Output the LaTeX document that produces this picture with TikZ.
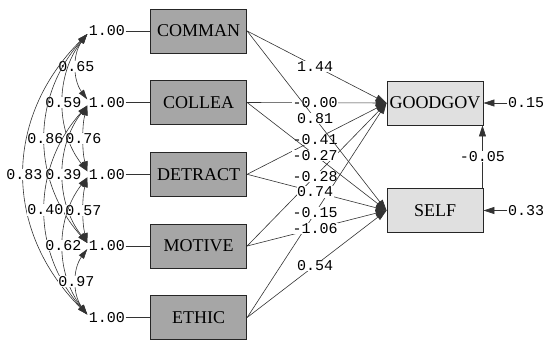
\documentclass[tikz,border=0pt]{standalone}
\usepackage{fontspec}
\setmainfont{Liberation Serif}
\setmonofont{Liberation Mono}
\usetikzlibrary{arrows.meta,calc}
\begin{document}
\begin{tikzpicture}[x=1pt,y=-1pt,
  obs/.style={draw=black!85, line width=0.9pt, minimum width=96pt, minimum height=44pt, inner sep=0pt, font=\fontsize{18}{18}\selectfont},
  exo/.style={obs, fill=black!35},
  endo/.style={obs, fill=black!12},
  num/.style={font=\ttfamily\fontsize{15}{15}\selectfont, inner sep=0.5pt},
  lbl/.style={num, fill=white},
  conn/.style={draw=black!80, line width=0.6pt},
  tip/.style={-{Triangle[length=11pt,width=7pt]}},
  dtip/.style={{Triangle[length=10pt,width=6pt]}-{Triangle[length=10pt,width=6pt]}},
]
\useasboundingbox (0,0) rectangle (548,342);
% observed variables
\node[exo] (comman) at (198.7,31) {COMMAN};
\node[exo] (collea) at (198.7,102.5) {COLLEA};
\node[exo] (detract) at (198.7,174.3) {DETRACT};
\node[exo] (motive) at (198.7,246) {MOTIVE};
\node[exo] (ethic) at (198.7,317.5) {ETHIC};
\node[endo] (good) at (435,103) {GOODGOV};
\node[endo] (self) at (435,210.5) {SELF};
% variances
\node[num] (v1) at (107,31) {1.00};
\node[num] (v2) at (107,102.5) {1.00};
\node[num] (v3) at (107,174.3) {1.00};
\node[num] (v4) at (107,246) {1.00};
\node[num] (v5) at (107,317.5) {1.00};
\foreach \v/\b in {v1/comman,v2/collea,v3/detract,v4/motive,v5/ethic}{
  \draw[conn] (\v) -- (\b);
}
\foreach \i in {1,...,5}{
  \coordinate (a\i) at ($(v\i.west)+(-1,-3)$);
  \coordinate (b\i) at ($(v\i.west)+(-1,3)$);
}
% covariances
\draw[conn,dtip] (b1) .. controls +(-14.7,20) and +(-14.7,-20) .. (a2) node[lbl,pos=0.5]{0.65};
\draw[conn,dtip] (b1) .. controls +(-32,41) and +(-32,-41) .. (a3) node[lbl,pos=0.5]{0.59};
\draw[conn,dtip] (b1) .. controls +(-56,63) and +(-56,-63) .. (a4) node[lbl,pos=0.5]{0.86};
\draw[conn,dtip] (b1) .. controls +(-84,84) and +(-84,-84) .. (a5) node[lbl,pos=0.5]{0.83};
\draw[conn,dtip] (b2) .. controls +(-5.3,20) and +(-5.3,-20) .. (a3) node[lbl,pos=0.5]{0.76};
\draw[conn,dtip] (b2) .. controls +(-32,41) and +(-32,-41) .. (a4) node[lbl,pos=0.5]{0.39};
\draw[conn,dtip] (b2) .. controls +(-56,63) and +(-56,-63) .. (a5) node[lbl,pos=0.5]{0.40};
\draw[conn,dtip] (b3) .. controls +(-5.3,20) and +(-5.3,-20) .. (a4) node[lbl,pos=0.5]{0.57};
\draw[conn,dtip] (b3) .. controls +(-32,41) and +(-32,-41) .. (a5) node[lbl,pos=0.5]{0.62};
\draw[conn,dtip] (b4) .. controls +(-14.7,20) and +(-14.7,-20) .. (a5) node[lbl,pos=0.5]{0.97};
% structural paths
\draw[conn,tip] (comman.east) -- (good.west) node[lbl,pos=0.487]{1.44};
\draw[conn,tip] (collea.east) -- (good.west) node[lbl,pos=0.487]{-0.00};
\draw[conn,tip] (detract.east) -- (good.west) node[lbl,pos=0.487]{-0.41};
\draw[conn,tip] (motive.east) -- (good.west) node[lbl,pos=0.487]{-0.28};
\draw[conn,tip] (ethic.east) -- (good.west) node[lbl,pos=0.487]{-0.15};
\draw[conn,tip] (comman.east) -- (self.west) node[lbl,pos=0.487]{0.81};
\draw[conn,tip] (collea.east) -- (self.west) node[lbl,pos=0.487]{-0.27};
\draw[conn,tip] (detract.east) -- (self.west) node[lbl,pos=0.487]{0.74};
\draw[conn,tip] (motive.east) -- (self.west) node[lbl,pos=0.487]{-1.06};
\draw[conn,tip] (ethic.east) -- (self.west) node[lbl,pos=0.487]{0.54};
% self -> goodgov
\coordinate (sc) at ($(self.north east)+(-1,0)$);
\coordinate (gc) at ($(good.south east)+(-1,0)$);
\draw[conn,tip] (sc) -- (gc) node[lbl,pos=0.5]{-0.05};
% error variances
\node[num] (e1) at (526,103) {0.15};
\node[num] (e2) at (526,210.5) {0.33};
\draw[conn,tip] (e1) -- (good);
\draw[conn,tip] (e2) -- (self);
\end{tikzpicture}
\end{document}
